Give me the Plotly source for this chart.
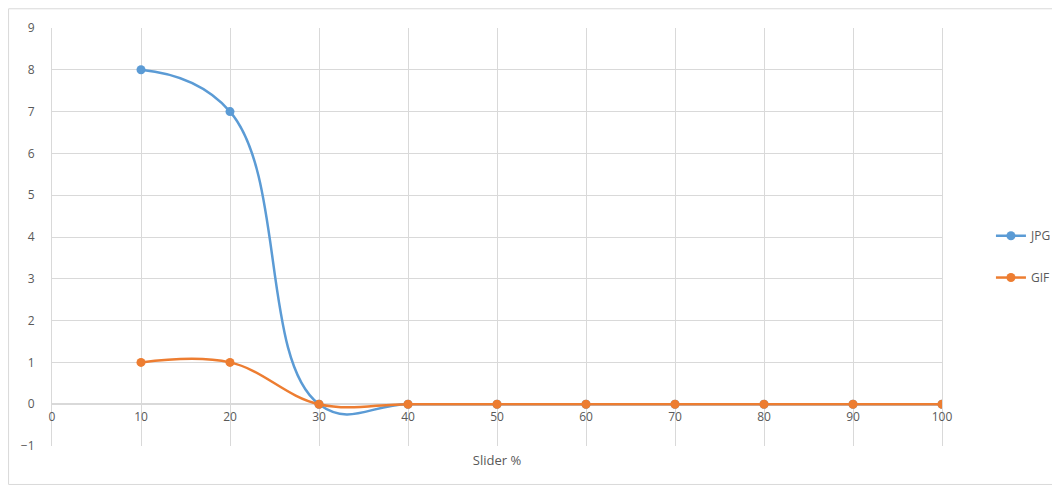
import plotly.graph_objects as go

slider = [10, 20, 30, 40, 50, 60, 70, 80, 90, 100]
jpg = [8, 7, 0, 0, 0, 0, 0, 0, 0, 0]
gif = [1, 1, 0, 0, 0, 0, 0, 0, 0, 0]
x_ticks = [0, 10, 20, 30, 40, 50, 60, 70, 80, 90, 100]
y_ticks = [-1, 0, 1, 2, 3, 4, 5, 6, 7, 8, 9]

BLUE = "#5B9BD5"
ORANGE = "#ED7D31"
GRID = "#D9D9D9"
TXT = "#595959"

fig = go.Figure()
fig.add_trace(go.Scatter(x=slider, y=jpg, name="JPG", mode="lines+markers",
                         line=dict(color=BLUE, width=2.5, shape="spline", smoothing=1.25),
                         marker=dict(color=BLUE, size=9), legend="legend"))
fig.add_trace(go.Scatter(x=slider, y=gif, name="GIF", mode="lines+markers",
                         line=dict(color=ORANGE, width=2.5, shape="spline", smoothing=1.1),
                         marker=dict(color=ORANGE, size=9), legend="legend2"))

fig.update_layout(
    width=1052, height=480,
    margin=dict(l=44, r=118, t=20, b=42, autoexpand=False),
    paper_bgcolor="white", plot_bgcolor="white",
    font=dict(family="Open Sans, Liberation Sans, sans-serif", size=12, color=TXT),
    xaxis=dict(range=[0, 100], tickvals=x_ticks, showgrid=True, gridcolor=GRID, gridwidth=1,
               zeroline=False, showline=False, anchor="free", position=0.1,
               ticks="", ticklabelstandoff=4, automargin=False,
               title=dict(text="Slider %", font=dict(size=13, color=TXT), standoff=31)),
    yaxis=dict(range=[-1, 9], tickvals=y_ticks, showgrid=True, gridcolor=GRID, gridwidth=1,
               zeroline=True, zerolinecolor=GRID, zerolinewidth=1.5,
               showline=True, linecolor=GRID, linewidth=1, mirror=True,
               ticks="", ticklabelstandoff=14, automargin=False),
    legend=dict(x=1.055, y=0.503, xanchor="left", yanchor="middle",
                font=dict(size=12, color=TXT), bgcolor="rgba(0,0,0,0)"),
    legend2=dict(x=1.055, y=0.403, xanchor="left", yanchor="middle",
                 font=dict(size=12, color=TXT), bgcolor="rgba(0,0,0,0)"),
    showlegend=True,
    shapes=[dict(type="rect", xref="paper", yref="paper",
                 x0=-0.0488, x1=1.126, y0=-0.092, y1=1.046,
                 line=dict(color=GRID, width=1), fillcolor="rgba(0,0,0,0)", layer="below")],
)

fig.write_html("out.html")
